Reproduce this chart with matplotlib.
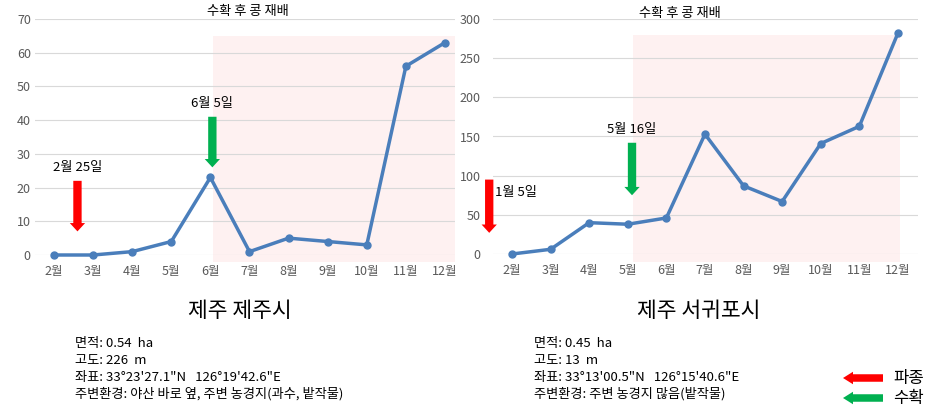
import matplotlib
matplotlib.use("Agg")
import matplotlib.pyplot as plt
from matplotlib.patches import Rectangle

plt.rcParams['font.family'] = ['Noto Sans CJK KR', 'DejaVu Sans']

# ---------------------------------------------------------------- data
months = ['2월', '3월', '4월', '5월', '6월', '7월', '8월', '9월', '10월', '11월', '12월']
month_num = [2, 3, 4, 5, 6, 7, 8, 9, 10, 11, 12]
jeju_vals = [0, 0, 1, 4, 23, 1, 5, 4, 3, 56, 63]
seogwipo_vals = [0, 6, 40, 38, 46, 153, 87, 67, 141, 163, 282]

jeju_sow = (2.6, 22, 7, '2월 25일')       # x, arrow top, arrow tip, label
jeju_harvest = (6.05, 41, 26, '6월 5일')
seo_sow = (1.41, 95, 27, '1월 5일')
seo_harvest = (5.11, 142, 75, '5월 16일')

jeju_info = ['면적: 0.54  ha', '고도: 226  m',
             '좌표: 33°23\'27.1"N   126°19\'42.6"E',
             '주변환경: 야산 바로 옆, 주변 농경지(과수, 밭작물)']
seo_info = ['면적: 0.45  ha', '고도: 13  m',
            '좌표: 33°13\'00.5"N   126°15\'40.6"E',
            '주변환경: 주변 농경지 많음(밭작물)']

W, H = 938, 419
LINE = '#4a7ebb'
RED = '#ff0000'
GREEN = '#00b050'
SHADE = '#fef1f1'


def px_axes(fig, x0, y0, x1, y1):
    # pixel box (top-left origin) -> figure fraction
    return fig.add_axes([x0 / W, 1 - y1 / H, (x1 - x0) / W, (y1 - y0) / H])


def block_arrow(ax, x, ytop, ytip, color, **kw):
    ax.annotate('', xy=(x, ytip), xytext=(x, ytop), annotation_clip=False,
                arrowprops=dict(arrowstyle='simple,head_width=0.55,head_length=0.3,tail_width=0.3',
                                mutation_scale=20, fc=color, ec='none', shrinkA=0, shrinkB=0), **kw)


def setup(ax, vals, ylim, yticks, xlim, pad, shade):
    ax.add_patch(Rectangle((shade[0], shade[2]), shade[1] - shade[0], shade[3] - shade[2],
                           fc=SHADE, ec='none', zorder=0, clip_on=False))
    ax.plot(month_num, vals, color=LINE, lw=2.5, marker='o', ms=5, zorder=3, clip_on=False)
    ax.set_xlim(*xlim)
    ax.set_ylim(*ylim)
    ax.set_yticks(yticks)
    ax.set_xticks(month_num)
    ax.set_xticklabels(months)
    ax.grid(axis='y', color='#d9d9d9', lw=0.8)
    ax.set_axisbelow(True)
    for s in ax.spines.values():
        s.set_visible(False)
    ax.tick_params(length=0, labelsize=9, colors='#595959', pad=pad)
    ax.tick_params(axis='x', pad=7)
    ax.patch.set_alpha(0)


fig = plt.figure(figsize=(W / 100, H / 100), dpi=100)

# left chart: 제주시
ax1 = px_axes(fig, 35, 19, 455, 255)
setup(ax1, jeju_vals, (0, 70), range(0, 71, 10), (1.514, 12.256), 3,
      (6.07, 12.26, -2, 65))
for (x, yt, yb, lab), c in [(jeju_sow, RED), (jeju_harvest, GREEN)]:
    block_arrow(ax1, x, yt, yb, c)
    ax1.text(x, yt + 2.0, lab, ha='center', va='bottom', fontsize=9.5)

# right chart: 서귀포시
ax2 = px_axes(fig, 493, 19, 918, 254)
setup(ax2, seogwipo_vals, (0, 300), range(0, 301, 50), (1.508, 12.52), 9,
      (5.13, 12.05, -10, 280))
x, yt, yb, lab = seo_sow
block_arrow(ax2, x, yt, yb, RED)
ax2.text(x + 0.15, 78, lab, ha='left', va='center', fontsize=9.5)
x, yt, yb, lab = seo_harvest
block_arrow(ax2, x, yt, yb, GREEN)
ax2.text(x, yt + 9, lab, ha='center', va='bottom', fontsize=9.5)

fig.text(248 / W, 1 - 12 / H, '수확 후 콩 재배', ha='center', va='center', fontsize=9.5)
fig.text(680 / W, 1 - 13 / H, '수확 후 콩 재배', ha='center', va='center', fontsize=9.5)

fig.text(240 / W, 1 - 311 / H, '제주 제주시', ha='center', va='center', fontsize=15.5)
fig.text(699 / W, 1 - 311 / H, '제주 서귀포시', ha='center', va='center', fontsize=15.5)

for i, (a, b) in enumerate(zip(jeju_info, seo_info)):
    y = 1 - (344 + i * 16.5) / H
    fig.text(75 / W, y, a, ha='left', va='center', fontsize=9.5)
    fig.text(534 / W, y, b, ha='left', va='center', fontsize=9.5)

# legend arrows
for yy, c, lab in [(378, RED, '파종'), (398, GREEN, '수확')]:
    fig.add_artist(plt.Annotation('', xy=(843 / W, 1 - yy / H), xytext=(883 / W, 1 - yy / H),
                                  xycoords='figure fraction',
                                  arrowprops=dict(arrowstyle='simple,head_width=0.5,head_length=0.4,tail_width=0.3',
                                                  mutation_scale=18, fc=c, ec='none', shrinkA=0, shrinkB=0)))
    fig.text(893 / W, 1 - yy / H, lab, ha='left', va='center', fontsize=12)

fig.savefig('out.png', dpi=100)
